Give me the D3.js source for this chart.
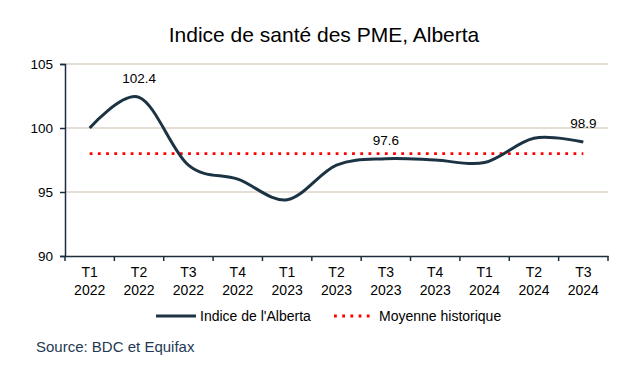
<!DOCTYPE html>
<html><head><meta charset="utf-8">
<script src="https://cdn.jsdelivr.net/npm/d3@7"></script>
<style>body{margin:0;background:#fff;}svg{display:block;font-family:"Liberation Sans",Arial,sans-serif;}</style>
</head><body><svg id="c" width="644" height="385"></svg>
<script>
const quarters = ["T1","T2","T3","T4","T1","T2","T3","T4","T1","T2","T3"];
const years = ["2022","2022","2022","2022","2023","2023","2023","2023","2024","2024","2024"];
const indexValues = [100.0, 102.4, 97.1, 96.0, 94.4, 97.1, 97.6, 97.5, 97.3, 99.2, 98.9];
const historicalAverage = [98.0,98.0,98.0,98.0,98.0,98.0,98.0,98.0,98.0,98.0,98.0];
const yTicks = [90, 95, 100, 105];
const labeledIdx = [1, 6, 10];

const svg = d3.select("#c");
const L = 65, R = 608, T = 64, B = 256;
const cats = quarters.map((q,i)=>q+"|"+years[i]+"|"+i);
const x = d3.scaleBand().domain(cats).range([L,R]);
const y = d3.scaleLinear().domain([90,105]).range([B,T]);
const cx = i => x(cats[i]) + x.bandwidth()/2;

svg.append("text").attr("x",324).attr("y",42).attr("text-anchor","middle")
  .attr("font-size",21).attr("fill","#000").text("Indice de santé des PME, Alberta");

// gridlines
svg.append("g").selectAll("line").data(yTicks.filter(t=>t>90)).join("line")
  .attr("x1",L).attr("x2",R).attr("y1",d=>y(d)).attr("y2",d=>y(d))
  .attr("stroke","#ddd3ca").attr("stroke-width",1.3);

// y axis
const ya = svg.append("g").attr("transform",`translate(${L},0)`)
  .call(d3.axisLeft(y).tickValues(yTicks).tickSize(5).tickPadding(7).tickFormat(d3.format("d")));
ya.select(".domain").attr("stroke","#1c2e3d").attr("stroke-width",1.5);
ya.selectAll(".tick line").attr("stroke","#1c2e3d").attr("stroke-width",1.5);
ya.selectAll("text").attr("font-size",13.5).attr("fill","#000").attr("font-family","Liberation Sans, Arial, sans-serif");

// x axis
const xa = svg.append("g").attr("transform",`translate(0,${B})`)
  .call(d3.axisBottom(x).tickSize(0).tickFormat(""));
xa.select(".domain").attr("stroke","#1c2e3d").attr("stroke-width",1.5);
xa.selectAll(".tick").remove();
const bounds = cats.map(c=>x(c)).concat([R]);
svg.append("g").selectAll("line").data(bounds).join("line")
  .attr("x1",d=>d).attr("x2",d=>d).attr("y1",B).attr("y2",B+5)
  .attr("stroke","#1c2e3d").attr("stroke-width",1.5);
const xl = svg.append("g").selectAll("text").data(cats).join("text")
  .attr("text-anchor","middle").attr("font-size",14).attr("fill","#000")
  .attr("transform",(d,i)=>`translate(${cx(i)},0)`);
xl.append("tspan").attr("x",0).attr("y",277).text((d,i)=>quarters[i]);
xl.append("tspan").attr("x",0).attr("y",295).text((d,i)=>years[i]);

// average line
svg.append("path").datum(historicalAverage)
  .attr("d",d3.line().x((d,i)=>cx(i)).y(d=>y(d)))
  .attr("fill","none").attr("stroke","#ff0000").attr("stroke-width",2.8)
  .attr("stroke-dasharray","2.8,5.4");

// index line
svg.append("path").datum(indexValues)
  .attr("d",d3.line().x((d,i)=>cx(i)).y(d=>y(d)).curve(d3.curveCardinal.tension(0)))
  .attr("fill","none").attr("stroke","#1c3344").attr("stroke-width",3);

// labels
svg.append("g").selectAll("text").data(labeledIdx).join("text")
  .attr("x",i=>cx(i)).attr("y",i=>y(indexValues[i]) - 14)
  .attr("text-anchor","middle").attr("font-size",13.5).attr("fill","#000")
  .text(i=>indexValues[i].toFixed(1));

// legend
const lg = svg.append("g");
lg.append("line").attr("x1",156).attr("x2",196).attr("y1",316).attr("y2",316)
  .attr("stroke","#1c3344").attr("stroke-width",3);
lg.append("text").attr("x",200).attr("y",321).attr("font-size",14).attr("fill","#000").text("Indice de l'Alberta");
lg.append("line").attr("x1",334).attr("x2",372).attr("y1",316).attr("y2",316)
  .attr("stroke","#ff0000").attr("stroke-width",2.8).attr("stroke-dasharray","2.8,5.4");
lg.append("text").attr("x",379).attr("y",321).attr("font-size",14).attr("fill","#000").text("Moyenne historique");

svg.append("text").attr("x",36).attr("y",352).attr("font-size",15).attr("fill","#1f3a52").text("Source: BDC et Equifax");
</script></body></html>
